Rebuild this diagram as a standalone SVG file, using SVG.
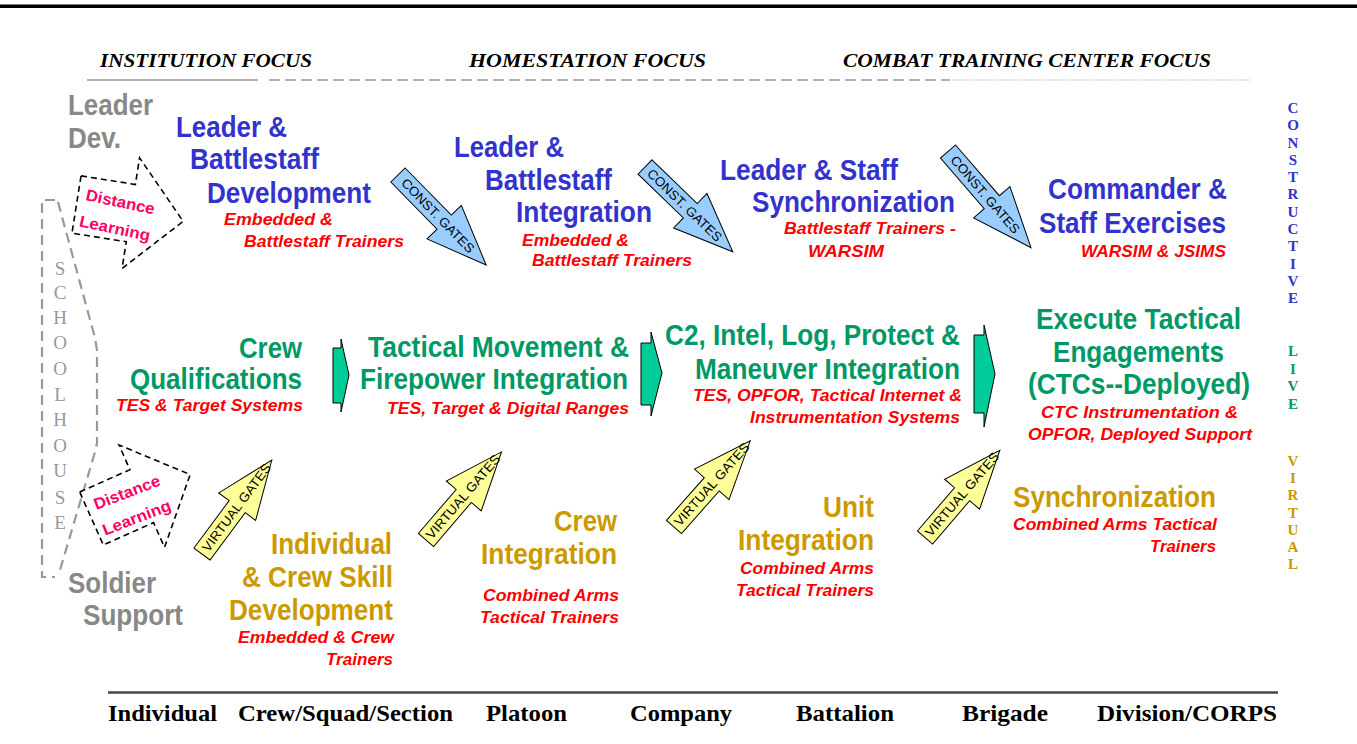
<svg xmlns="http://www.w3.org/2000/svg" width="1357" height="744" viewBox="0 0 1357 744">
<style>
.h{font-family:"Liberation Sans",Arial,sans-serif;font-weight:bold;font-size:29px}
.gray{fill:#888888;font-size:30px}
.blue{fill:#3333cc}
.green{fill:#009966}
.gold{fill:#cc9900}
.sub{font-family:"Liberation Sans",Arial,sans-serif;font-weight:bold;font-style:italic;font-size:17px;fill:#ff0000}
.focus{font-family:"Liberation Serif","Times New Roman",serif;font-weight:bold;font-style:italic;font-size:19.5px;fill:#000}
.scale{font-family:"Liberation Serif","Times New Roman",serif;font-weight:bold;font-size:24px;fill:#000}
.vert{font-family:"Liberation Serif","Times New Roman",serif;font-weight:bold;font-size:15px;text-anchor:middle}
.school{font-family:"Liberation Serif","Times New Roman",serif;font-size:19px;fill:#999999;text-anchor:middle}
.gate{font-family:"Liberation Sans",Arial,sans-serif;font-size:13px;fill:#000;text-anchor:middle}
.dl{font-family:"Liberation Sans",Arial,sans-serif;font-weight:bold;font-size:16px;fill:#ff0066;text-anchor:middle}
.const{fill:#99ccff;stroke:#000;stroke-width:1}
.virt{fill:#ffff99;stroke:#000;stroke-width:1}
.chev{fill:#00cc99;stroke:#000;stroke-width:1}
.dlshape{fill:#fff;stroke:#000;stroke-width:1.6;stroke-dasharray:6 4}
.bracket{fill:none;stroke:#999999;stroke-width:2.2;stroke-dasharray:10 6}
</style>

<rect x="0" y="4.5" width="1357" height="3.5" fill="#000"/>

<g id="focus-header">
<text class="focus" x="100" y="67" textLength="212" lengthAdjust="spacingAndGlyphs">INSTITUTION FOCUS</text>
<text class="focus" x="469" y="67" textLength="237" lengthAdjust="spacingAndGlyphs">HOMESTATION  FOCUS</text>
<text class="focus" x="843" y="67" textLength="368" lengthAdjust="spacingAndGlyphs">COMBAT TRAINING CENTER FOCUS</text>
<line x1="87" y1="80" x2="258" y2="80" stroke="#999" stroke-width="1.6"/>
<line x1="269" y1="80" x2="950" y2="80" stroke="#999" stroke-width="1.6" stroke-dasharray="11 5"/>
<line x1="952" y1="80" x2="1250" y2="80" stroke="#aaa" stroke-width="1" stroke-dasharray="1.5 1.5"/>
</g>

<g id="leader-dev">
<text class="h gray" x="68" y="115" textLength="85" lengthAdjust="spacingAndGlyphs">Leader</text>
<text class="h gray" x="68" y="148" textLength="53" lengthAdjust="spacingAndGlyphs">Dev.</text>
</g>

<g id="soldier-support">
<text class="h gray" x="68" y="593" textLength="88" lengthAdjust="spacingAndGlyphs">Soldier</text>
<text class="h gray" x="83" y="625" textLength="100" lengthAdjust="spacingAndGlyphs">Support</text>
</g>

<g id="schoolhouse">
<path class="bracket" d="M55,200 L42,200 L42,577 L55,577"/>
<path class="bracket" d="M58,202 L95,338 L97,350 L97,443 L95,452 L60,570"/>
<text class="school"><tspan x="60" y="275">S</tspan><tspan x="60" y="299">C</tspan><tspan x="60" y="324">H</tspan><tspan x="60" y="349">O</tspan><tspan x="60" y="375">O</tspan><tspan x="60" y="401">L</tspan><tspan x="60" y="426">H</tspan><tspan x="60" y="452">O</tspan><tspan x="60" y="477">U</tspan><tspan x="60" y="504">S</tspan><tspan x="60" y="529">E</tspan></text>
</g>

<g id="distance-learning-top" transform="translate(76.5,204.5) rotate(9)">
<path class="dlshape" d="M0,-29 L55,-29 L55,-56 L108,0 L55,56 L55,29 L0,29 Z"/>
<g transform="rotate(3,42,8)">
<text class="dl" x="42" y="-4" textLength="70" lengthAdjust="spacingAndGlyphs">Distance</text>
<text class="dl" x="42" y="23" textLength="72" lengthAdjust="spacingAndGlyphs">Learning</text>
</g>
</g>

<g id="distance-learning-bottom" transform="translate(91.5,518.5) rotate(-24)">
<path class="dlshape" d="M0,-29 L55,-29 L55,-56 L108,0 L55,56 L55,29 L0,29 Z"/>
<g transform="rotate(3,42,8)">
<text class="dl" x="42" y="-4" textLength="70" lengthAdjust="spacingAndGlyphs">Distance</text>
<text class="dl" x="42" y="23" textLength="72" lengthAdjust="spacingAndGlyphs">Learning</text>
</g>
</g>

<g id="leader-battlestaff-development">
<text class="h blue" x="176" y="137" textLength="111" lengthAdjust="spacingAndGlyphs">Leader &amp;</text>
<text class="h blue" x="190" y="169" textLength="129" lengthAdjust="spacingAndGlyphs">Battlestaff</text>
<text class="h blue" x="207" y="203" textLength="164" lengthAdjust="spacingAndGlyphs">Development</text>
<text class="sub" x="224" y="225" textLength="109" lengthAdjust="spacingAndGlyphs">Embedded &amp;</text>
<text class="sub" x="244" y="247" textLength="160" lengthAdjust="spacingAndGlyphs">Battlestaff Trainers</text>
</g>

<g id="leader-battlestaff-integration">
<text class="h blue" x="454" y="157" textLength="110" lengthAdjust="spacingAndGlyphs">Leader &amp;</text>
<text class="h blue" x="485" y="190" textLength="127" lengthAdjust="spacingAndGlyphs">Battlestaff</text>
<text class="h blue" x="516" y="222" textLength="136" lengthAdjust="spacingAndGlyphs">Integration</text>
<text class="sub" x="522" y="246" textLength="107" lengthAdjust="spacingAndGlyphs">Embedded &amp;</text>
<text class="sub" x="532" y="266" textLength="160" lengthAdjust="spacingAndGlyphs">Battlestaff Trainers</text>
</g>

<g id="leader-staff-synchronization">
<text class="h blue" x="720" y="180" textLength="178" lengthAdjust="spacingAndGlyphs">Leader &amp; Staff</text>
<text class="h blue" x="752" y="212" textLength="203" lengthAdjust="spacingAndGlyphs">Synchronization</text>
<text class="sub" x="784" y="234" textLength="172" lengthAdjust="spacingAndGlyphs">Battlestaff Trainers -</text>
<text class="sub" x="808" y="257" textLength="76" lengthAdjust="spacingAndGlyphs">WARSIM</text>
</g>

<g id="commander-staff-exercises">
<text class="h blue" x="1048" y="199" textLength="179" lengthAdjust="spacingAndGlyphs">Commander &amp;</text>
<text class="h blue" x="1039" y="233" textLength="187" lengthAdjust="spacingAndGlyphs">Staff Exercises</text>
<text class="sub" x="1081" y="257" textLength="145" lengthAdjust="spacingAndGlyphs">WARSIM &amp; JSIMS</text>
</g>

<g id="crew-qualifications">
<text class="h green" x="239" y="358" textLength="63" lengthAdjust="spacingAndGlyphs">Crew</text>
<text class="h green" x="130" y="389" textLength="172" lengthAdjust="spacingAndGlyphs">Qualifications</text>
<text class="sub" x="116" y="411" textLength="187" lengthAdjust="spacingAndGlyphs">TES &amp; Target Systems</text>
</g>

<g id="tactical-movement">
<text class="h green" x="368" y="357" textLength="261" lengthAdjust="spacingAndGlyphs">Tactical Movement &amp;</text>
<text class="h green" x="360" y="389" textLength="268" lengthAdjust="spacingAndGlyphs">Firepower Integration</text>
<text class="sub" x="387" y="414" textLength="242" lengthAdjust="spacingAndGlyphs">TES, Target &amp; Digital Ranges</text>
</g>

<g id="c2-integration">
<text class="h green" x="665" y="345" textLength="295" lengthAdjust="spacingAndGlyphs">C2, Intel, Log, Protect &amp;</text>
<text class="h green" x="695" y="379" textLength="265" lengthAdjust="spacingAndGlyphs">Maneuver Integration</text>
<text class="sub" x="693" y="401" textLength="269" lengthAdjust="spacingAndGlyphs">TES, OPFOR, Tactical Internet &amp;</text>
<text class="sub" x="750" y="423" textLength="210" lengthAdjust="spacingAndGlyphs">Instrumentation Systems</text>
</g>

<g id="execute-tactical-engagements">
<text class="h green" x="1036" y="329" textLength="205" lengthAdjust="spacingAndGlyphs">Execute Tactical</text>
<text class="h green" x="1053" y="362" textLength="171" lengthAdjust="spacingAndGlyphs">Engagements</text>
<text class="h green" x="1028" y="394" textLength="222" lengthAdjust="spacingAndGlyphs">(CTCs--Deployed)</text>
<text class="sub" x="1041" y="418" textLength="197" lengthAdjust="spacingAndGlyphs">CTC  Instrumentation &amp;</text>
<text class="sub" x="1028" y="440" textLength="224" lengthAdjust="spacingAndGlyphs">OPFOR, Deployed Support</text>
</g>

<g id="individual-crew-skill">
<text class="h gold" x="271" y="554" textLength="121" lengthAdjust="spacingAndGlyphs">Individual</text>
<text class="h gold" x="242" y="587" textLength="151" lengthAdjust="spacingAndGlyphs">&amp; Crew Skill</text>
<text class="h gold" x="229" y="620" textLength="164" lengthAdjust="spacingAndGlyphs">Development</text>
<text class="sub" x="238" y="643" textLength="156" lengthAdjust="spacingAndGlyphs">Embedded &amp; Crew</text>
<text class="sub" x="326" y="665" textLength="67" lengthAdjust="spacingAndGlyphs">Trainers</text>
</g>

<g id="crew-integration">
<text class="h gold" x="554" y="531" textLength="63" lengthAdjust="spacingAndGlyphs">Crew</text>
<text class="h gold" x="481" y="564" textLength="136" lengthAdjust="spacingAndGlyphs">Integration</text>
<text class="sub" x="483" y="601" textLength="136" lengthAdjust="spacingAndGlyphs">Combined Arms</text>
<text class="sub" x="480" y="623" textLength="139" lengthAdjust="spacingAndGlyphs">Tactical Trainers</text>
</g>

<g id="unit-integration">
<text class="h gold" x="823" y="517" textLength="51" lengthAdjust="spacingAndGlyphs">Unit</text>
<text class="h gold" x="738" y="550" textLength="136" lengthAdjust="spacingAndGlyphs">Integration</text>
<text class="sub" x="740" y="574" textLength="134" lengthAdjust="spacingAndGlyphs">Combined Arms</text>
<text class="sub" x="736" y="596" textLength="138" lengthAdjust="spacingAndGlyphs">Tactical Trainers</text>
</g>

<g id="synchronization">
<text class="h gold" x="1013" y="507" textLength="203" lengthAdjust="spacingAndGlyphs">Synchronization</text>
<text class="sub" x="1013" y="530" textLength="204" lengthAdjust="spacingAndGlyphs">Combined Arms Tactical</text>
<text class="sub" x="1150" y="552" textLength="66" lengthAdjust="spacingAndGlyphs">Trainers</text>
</g>

<g id="domain-labels">
<text class="vert" fill="#3333cc"><tspan x="1293" y="113">C</tspan><tspan x="1293" y="130.3">O</tspan><tspan x="1293" y="147.5">N</tspan><tspan x="1293" y="164.8">S</tspan><tspan x="1293" y="182.1">T</tspan><tspan x="1293" y="199.4">R</tspan><tspan x="1293" y="216.6">U</tspan><tspan x="1293" y="233.9">C</tspan><tspan x="1293" y="251.2">T</tspan><tspan x="1293" y="268.5">I</tspan><tspan x="1293" y="285.7">V</tspan><tspan x="1293" y="303">E</tspan></text>
<text class="vert" fill="#009966"><tspan x="1293" y="356">L</tspan><tspan x="1293" y="373.7">I</tspan><tspan x="1293" y="391.3">V</tspan><tspan x="1293" y="409">E</tspan></text>
<text class="vert" fill="#cc9900"><tspan x="1293" y="466">V</tspan><tspan x="1293" y="483.2">I</tspan><tspan x="1293" y="500.3">R</tspan><tspan x="1293" y="517.5">T</tspan><tspan x="1293" y="534.7">U</tspan><tspan x="1293" y="551.8">A</tspan><tspan x="1293" y="569">L</tspan></text>
</g>

<g id="echelon-scale">
<line x1="108" y1="692.5" x2="1278" y2="692.5" stroke="#444" stroke-width="2.5"/>
<text class="scale" x="108" y="721" textLength="109" lengthAdjust="spacingAndGlyphs">Individual</text>
<text class="scale" x="238" y="721" textLength="215" lengthAdjust="spacingAndGlyphs">Crew/Squad/Section</text>
<text class="scale" x="486" y="721" textLength="81" lengthAdjust="spacingAndGlyphs">Platoon</text>
<text class="scale" x="630" y="721" textLength="102" lengthAdjust="spacingAndGlyphs">Company</text>
<text class="scale" x="796" y="721" textLength="98" lengthAdjust="spacingAndGlyphs">Battalion</text>
<text class="scale" x="962" y="721" textLength="86" lengthAdjust="spacingAndGlyphs">Brigade</text>
<text class="scale" x="1097" y="721" textLength="180" lengthAdjust="spacingAndGlyphs">Division/CORPS</text>
</g>

<g id="connectors">
<polygon class="chev" points="333,348 341,348 341,339 349,375 341,412 341,403 333,403"/>
<polygon class="chev" points="641,343 651,343 651,332 662,373 651,416 651,405 641,405"/>
<polygon class="chev" points="974,335 984,335 984,325 995,374 984,427 984,413 974,413"/>

<g transform="translate(398,175) rotate(45.6)">
<path class="const" d="M0,-10 H66 V-24 L126,0 L66,24 V10 H0 Z"/>
<text class="gate" x="57" y="4.5" textLength="98" lengthAdjust="spacingAndGlyphs">CONST. GATES</text>
</g>
<g transform="translate(645,167) rotate(44)">
<path class="const" d="M0,-10 H63 V-24 L122,0 L63,24 V10 H0 Z"/>
<text class="gate" x="55" y="4.5" textLength="98" lengthAdjust="spacingAndGlyphs">CONST. GATES</text>
</g>
<g transform="translate(948,151.5) rotate(49.2)">
<path class="const" d="M0,-10 H67 V-24 L127,0 L67,24 V10 H0 Z"/>
<text class="gate" x="57" y="4.5" textLength="98" lengthAdjust="spacingAndGlyphs">CONST. GATES</text>
</g>

<g transform="translate(202,554) rotate(-53.4)">
<path class="virt" d="M0,-10 H59 V-23 L117,0 L59,23 V10 H0 Z"/>
<text class="gate" x="58" y="4.5" textLength="106" lengthAdjust="spacingAndGlyphs">VIRTUAL GATES</text>
</g>
<g transform="translate(426,540) rotate(-49.4)">
<path class="virt" d="M0,-10 H58 V-23 L116,0 L58,23 V10 H0 Z"/>
<text class="gate" x="57" y="4.5" textLength="106" lengthAdjust="spacingAndGlyphs">VIRTUAL GATES</text>
</g>
<g transform="translate(674,527) rotate(-48.5)">
<path class="virt" d="M0,-10 H57 V-23 L115,0 L57,23 V10 H0 Z"/>
<text class="gate" x="57" y="4.5" textLength="106" lengthAdjust="spacingAndGlyphs">VIRTUAL GATES</text>
</g>
<g transform="translate(925,537.5) rotate(-49.4)">
<path class="virt" d="M0,-10 H57 V-23 L115,0 L57,23 V10 H0 Z"/>
<text class="gate" x="57" y="4.5" textLength="106" lengthAdjust="spacingAndGlyphs">VIRTUAL GATES</text>
</g>
</g>
</svg>
